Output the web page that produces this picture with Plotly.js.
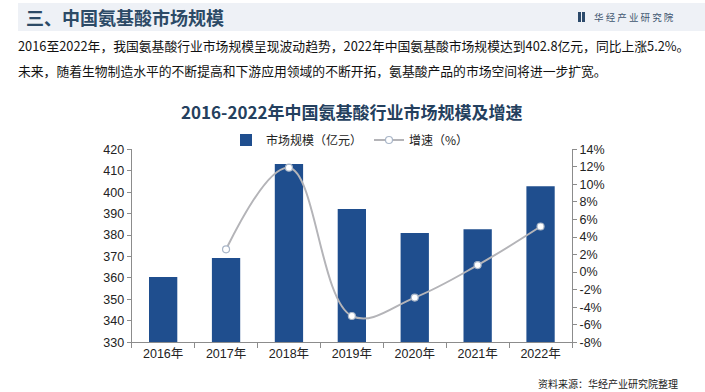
<!DOCTYPE html>
<html>
<head>
<meta charset="utf-8">
<script src="https://cdn.plot.ly/plotly-3.0.1.min.js"></script>
<style>
html,body{margin:0;padding:0;background:#fff;}
#chart{width:705px;height:392px;}
</style>
</head>
<body>
<div id="chart"></div>
<script>
const years = ["2016年","2017年","2018年","2019年","2020年","2021年","2022年"];
const marketSize = [360.4, 369.3, 413.2, 392.2, 381.0, 382.7, 402.8];
const growthYears = ["2017年","2018年","2019年","2020年","2021年","2022年"];
const growthRate = [2.6, 11.9, -5.0, -2.9, 0.8, 5.2];
const leftTicks = [330,340,350,360,370,380,390,400,410,420];
const rightTicks = [-8,-6,-4,-2,0,2,4,6,8,10,12,14];

const FONT = '"Liberation Sans", Arial, "Noto Sans CJK SC", sans-serif';
const CJK = '"Noto Sans CJK SC", "Liberation Sans", sans-serif';
const NB = '\u00a0';

const traces = [
  {
    type: 'bar', x: years, y: marketSize, name: '市场规模（亿元）',
    marker: {color: '#1f4e8e'}, width: 0.45, yaxis: 'y', hoverinfo: 'skip'
  },
  {
    type: 'scatter', mode: 'lines+markers', x: growthYears, y: growthRate,
    name: '增速（%）', yaxis: 'y2',
    line: {color: '#b4b4b8', width: 2, shape: 'spline', smoothing: 1.1},
    marker: {color: '#ffffff', size: 7, line: {color: '#a9b6c8', width: 1.2}},
    hoverinfo: 'skip'
  }
];

const W = 705, H = 392;
const xl = 131.7/W, xr = 572/W;
const yb = 1 - 342.3/H, yt = 1 - 149.3/H;

const layout = {
  width: W, height: H,
  margin: {l:0, r:0, t:0, b:0},
  paper_bgcolor: '#ffffff', plot_bgcolor: 'rgba(0,0,0,0)',
  showlegend: true,
  font: {family: FONT, size: 12, color: '#222'},
  xaxis: {
    domain: [xl, xr], type: 'category',
    categoryorder: 'array', categoryarray: years,
    showline: true, linecolor: '#8c8c8c', linewidth: 1,
    ticks: 'outside', ticklen: 5, tickcolor: '#8c8c8c', tickson: 'boundaries',
    showgrid: false, zeroline: false,
    tickfont: {family: FONT, size: 12.5, color: '#222'},
    fixedrange: true
  },
  yaxis: {
    domain: [yb, yt], range: [330, 420], tickvals: leftTicks,
    showline: true, linecolor: '#8c8c8c', linewidth: 1,
    ticks: 'outside', ticklen: 4, tickcolor: '#8c8c8c',
    showgrid: false, zeroline: false,
    tickfont: {family: FONT, size: 12.5, color: '#222'},
    fixedrange: true
  },
  yaxis2: {
    overlaying: 'y', side: 'right', anchor: 'x',
    range: [-8, 14], tickvals: rightTicks,
    ticktext: rightTicks.map(v => v + '%'),
    showline: true, linecolor: '#8c8c8c', linewidth: 1,
    ticks: 'outside', ticklen: 4, tickcolor: '#8c8c8c',
    showgrid: false, zeroline: false,
    tickfont: {family: FONT, size: 12.5, color: '#222'},
    fixedrange: true
  },
  legend: {
    orientation: 'h', x: 226/W, y: 1 - 140/H, xanchor: 'left', yanchor: 'middle',
    font: {family: CJK, size: 12, color: '#222'},
    bgcolor: 'rgba(0,0,0,0)', itemwidth: 30, entrywidth: 98, entrywidthmode: 'pixels',
    tracegroupgap: 0
  },
  shapes: [
    {type: 'rect', xref: 'paper', yref: 'paper', x0: 18/W, x1: 1, y0: 1 - 31/H, y1: 1 - 3/H,
     fillcolor: '#eef1f6', line: {width: 0}, layer: 'below'},
    {type: 'rect', xref: 'paper', yref: 'paper', x0: 578/W, x1: 581/W, y0: 1 - 22/H, y1: 1 - 12/H,
     fillcolor: '#2c4a6b', line: {width: 0}},
    {type: 'rect', xref: 'paper', yref: 'paper', x0: 582/W, x1: 585/W, y0: 1 - 22/H, y1: 1 - 12/H,
     fillcolor: '#2c4a6b', line: {width: 0}}
  ],
  annotations: [
    {text: '<b>三、中国氨基酸市场规模</b>', xref: 'paper', yref: 'paper', x: 24/W, y: 1 - 17/H,
     xanchor: 'left', yanchor: 'middle', showarrow: false,
     font: {family: CJK, size: 18, color: '#2c4a66'}},
    {text: ['华','经','产','业','研','究','院'].join(NB), xref: 'paper', yref: 'paper', x: 592/W, y: 1 - 17/H,
     xanchor: 'left', yanchor: 'middle', showarrow: false,
     font: {family: CJK, size: 9.5, color: '#3e5670'}},
    {text: '2016至2022年，我国氨基酸行业市场规模呈现波动趋势，2022年中国氨基酸市场规模达到402.8亿元，同比上涨5.2%。',
     xref: 'paper', yref: 'paper', x: 16/W, y: 1 - 46/H, xanchor: 'left', yanchor: 'middle', showarrow: false,
     font: {family: CJK, size: 12.8, color: '#111'}},
    {text: '未来，随着生物制造水平的不断提高和下游应用领域的不断开拓，氨基酸产品的市场空间将进一步扩宽。',
     xref: 'paper', yref: 'paper', x: 16/W, y: 1 - 70/H, xanchor: 'left', yanchor: 'middle', showarrow: false,
     font: {family: CJK, size: 12.8, color: '#111'}},
    {text: '<b>2016-2022年中国氨基酸行业市场规模及增速</b>', xref: 'paper', yref: 'paper', x: 352/W, y: 1 - 111/H,
     xanchor: 'center', yanchor: 'middle', showarrow: false,
     font: {family: CJK, size: 17, color: '#24405e'}},
    {text: '资料来源：华经产业研究院整理', xref: 'paper', yref: 'paper', x: 680/W, y: 1 - 383/H,
     xanchor: 'right', yanchor: 'middle', showarrow: false,
     font: {family: CJK, size: 10, color: '#222'}}
  ]
};

Plotly.newPlot('chart', traces, layout, {displayModeBar: false, staticPlot: true});
</script>
</body>
</html>
